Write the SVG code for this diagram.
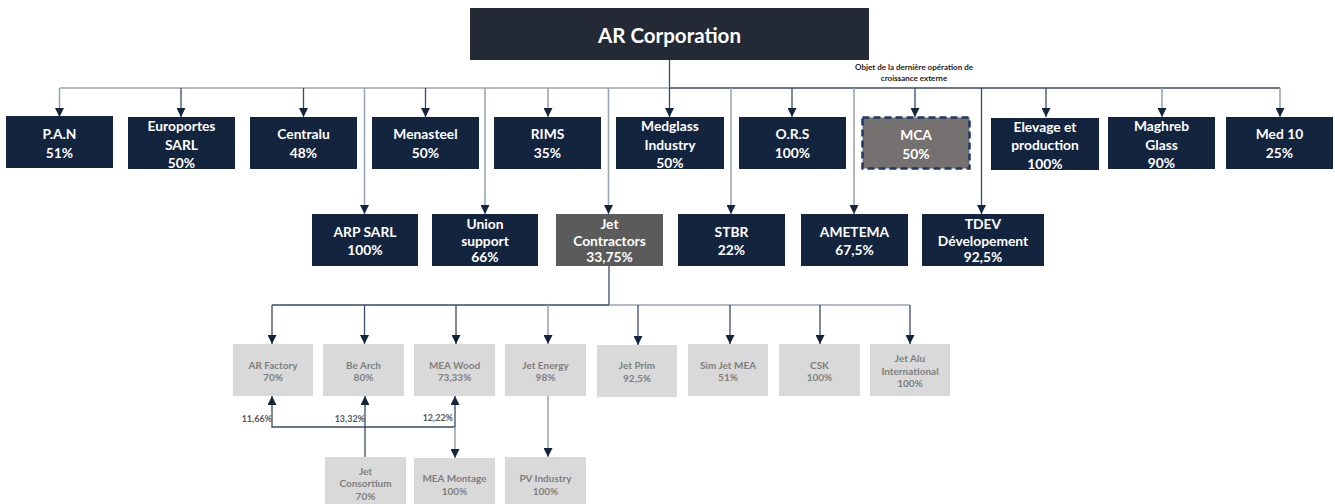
<svg xmlns="http://www.w3.org/2000/svg" width="1335" height="504" viewBox="0 0 1335 504">
<style>
  text { font-family: Lato, "Open Sans", "Liberation Sans", sans-serif; font-weight: 700; text-anchor: middle; dominant-baseline: central; }
  .nb { fill: #13243f; }
  .tw { fill: #ffffff; font-size: 13.8px; }
  .sb { fill: #d9d9d9; }
  .ts { fill: #7f7f7f; font-size: 10px; }
  .dk { stroke: #3a4a63; stroke-width: 1.3; fill: none; }
  .gy { stroke: #9aa5b6; stroke-width: 1.6; fill: none; }
  .lab { fill: #595959; font-size: 9px; text-anchor: end; }
  .note { fill: #1a1a1a; font-size: 8px; }
</style>
<defs>
  <marker id="ah" viewBox="0 0 10 10" refX="10" refY="5" markerWidth="9" markerHeight="9" markerUnits="userSpaceOnUse" orient="auto">
    <path d="M0,0 L10,5 L0,10 z" fill="#13243f"/>
  </marker>
</defs>

<g id="connectors">
  <!-- top level -->
  <path class="dk" d="M669.5,60 V88 H1280"/>
  <path class="gy" d="M59.5,88 H669.5"/>
  <path class="gy" d="M59.5,88 V117" marker-end="url(#ah)"/>
  <path class="dk" d="M181,88 V117" marker-end="url(#ah)"/>
  <path class="dk" d="M303.5,88 V117" marker-end="url(#ah)"/>
  <path class="dk" d="M425.5,88 V117" marker-end="url(#ah)"/>
  <path class="gy" d="M548,88 V117" marker-end="url(#ah)"/>
  <path class="dk" d="M669.5,88 V117" marker-end="url(#ah)"/>
  <path class="dk" d="M792,88 V117" marker-end="url(#ah)"/>
  <path class="dk" d="M915,88 V117" marker-end="url(#ah)"/>
  <path class="dk" d="M1046,88 V117" marker-end="url(#ah)"/>
  <path class="gy" d="M1162,88 V117" marker-end="url(#ah)"/>
  <path class="gy" d="M1280,88 V117" marker-end="url(#ah)"/>
  <!-- second row -->
  <path class="gy" d="M364.5,88 V214" marker-end="url(#ah)"/>
  <path class="gy" d="M485,88 V214" marker-end="url(#ah)"/>
  <path class="gy" d="M608.5,88 V214" marker-end="url(#ah)"/>
  <path class="gy" d="M731,88 V214" marker-end="url(#ah)"/>
  <path class="gy" d="M854,88 V214" marker-end="url(#ah)"/>
  <path class="dk" d="M981.5,88 V214" marker-end="url(#ah)"/>
  <!-- Jet Contractors subsidiaries -->
  <path class="dk" d="M609,266 V305 H272"/>
  <path class="gy" d="M609,305 H910"/>
  <path class="dk" d="M272,305 V344" marker-end="url(#ah)"/>
  <path class="dk" d="M364.5,305 V344" marker-end="url(#ah)"/>
  <path class="dk" d="M456,305 V344" marker-end="url(#ah)"/>
  <path class="gy" d="M548,305 V344" marker-end="url(#ah)"/>
  <path class="dk" d="M638,305 V345" marker-end="url(#ah)"/>
  <path class="dk" d="M730,305 V344" marker-end="url(#ah)"/>
  <path class="dk" d="M820,305 V344" marker-end="url(#ah)"/>
  <path class="dk" d="M910,305 V344" marker-end="url(#ah)"/>
  <!-- Jet Consortium cross-holdings -->
  <path class="dk" d="M455,427 H272 V396" marker-end="url(#ah)"/>
  <path class="dk" d="M365,457 V396" marker-end="url(#ah)"/>
  <path class="dk" d="M455,427 V396" marker-end="url(#ah)"/>
  <path class="gy" d="M455,427 V458" marker-end="url(#ah)"/>
  <path class="gy" d="M548,396 V457" marker-end="url(#ah)"/>
</g>

<g id="ar-corporation">
  <rect x="470" y="8" width="399" height="52" fill="#232a36"/>
  <text x="669.5" y="35" fill="#ffffff" font-size="20.5">AR Corporation</text>
</g>

<g id="note">
  <text class="note" x="914" y="66.5">Objet de la dernière opération de</text>
  <text class="note" x="914" y="77.5">croissance externe</text>
</g>

<g id="pan"><rect class="nb" x="6" y="116" width="107" height="52"/>
  <text class="tw" x="59.5" y="133.5">P.A.N</text><text class="tw" x="59.5" y="152.5">51%</text></g>
<g id="europortes"><rect class="nb" x="128" y="117" width="107" height="52"/>
  <text class="tw" x="181.5" y="125.5">Europortes</text><text class="tw" x="181.5" y="144">SARL</text><text class="tw" x="181.5" y="162.5">50%</text></g>
<g id="centralu"><rect class="nb" x="250" y="117" width="107" height="52"/>
  <text class="tw" x="303.5" y="133.5">Centralu</text><text class="tw" x="303.5" y="152.5">48%</text></g>
<g id="menasteel"><rect class="nb" x="372" y="117" width="107" height="52"/>
  <text class="tw" x="425.5" y="133.5">Menasteel</text><text class="tw" x="425.5" y="152.5">50%</text></g>
<g id="rims"><rect class="nb" x="494" y="117" width="107" height="52"/>
  <text class="tw" x="547.5" y="133.5">RIMS</text><text class="tw" x="547.5" y="152.5">35%</text></g>
<g id="medglass"><rect class="nb" x="616" y="117" width="108" height="52"/>
  <text class="tw" x="670" y="125.5">Medglass</text><text class="tw" x="670" y="144">Industry</text><text class="tw" x="670" y="162.5">50%</text></g>
<g id="ors"><rect class="nb" x="739" y="117" width="107" height="52"/>
  <text class="tw" x="792.5" y="133.5">O.R.S</text><text class="tw" x="792.5" y="152.5">100%</text></g>
<g id="mca"><rect x="862.5" y="117.5" width="107" height="51" fill="#757171" stroke="#1f3864" stroke-width="2.5" stroke-dasharray="7 4"/>
  <text class="tw" x="916" y="134" fill="#f2f2f2">MCA</text><text class="tw" x="916" y="153">50%</text></g>
<g id="elevage"><rect class="nb" x="991" y="118" width="108" height="52"/>
  <text class="tw" x="1045" y="126">Elevage et</text><text class="tw" x="1045" y="144.5">production</text><text class="tw" x="1045" y="163">100%</text></g>
<g id="maghreb"><rect class="nb" x="1108" y="117" width="107" height="52"/>
  <text class="tw" x="1161.5" y="125.5">Maghreb</text><text class="tw" x="1161.5" y="144">Glass</text><text class="tw" x="1161.5" y="162.5">90%</text></g>
<g id="med10"><rect class="nb" x="1226" y="117" width="107" height="52"/>
  <text class="tw" x="1279.5" y="133.5">Med 10</text><text class="tw" x="1279.5" y="152.5">25%</text></g>

<g id="arp"><rect class="nb" x="312" y="214" width="106" height="52"/>
  <text class="tw" x="365" y="231.5">ARP SARL</text><text class="tw" x="365" y="249">100%</text></g>
<g id="union"><rect class="nb" x="432" y="214" width="106" height="52"/>
  <text class="tw" x="485" y="223.5">Union</text><text class="tw" x="485" y="240">support</text><text class="tw" x="485" y="256">66%</text></g>
<g id="jet-contractors"><rect x="556" y="214" width="107" height="52" fill="#5b5b5b"/>
  <text class="tw" x="609.5" y="223.5">Jet</text><text class="tw" x="609.5" y="240">Contractors</text><text class="tw" x="609.5" y="256">33,75%</text></g>
<g id="stbr"><rect class="nb" x="678" y="214" width="107" height="52"/>
  <text class="tw" x="731.5" y="231.5">STBR</text><text class="tw" x="731.5" y="249">22%</text></g>
<g id="ametema"><rect class="nb" x="801" y="214" width="107" height="52"/>
  <text class="tw" x="854.5" y="231.5">AMETEMA</text><text class="tw" x="854.5" y="249">67,5%</text></g>
<g id="tdev"><rect class="nb" x="922" y="214" width="122" height="52"/>
  <text class="tw" x="983" y="223.5">TDEV</text><text class="tw" x="983" y="240">Dévelopement</text><text class="tw" x="983" y="256">92,5%</text></g>

<g id="ar-factory"><rect class="sb" x="233" y="344" width="80" height="52"/>
  <text class="ts" x="273" y="365">AR Factory</text><text class="ts" x="273" y="377">70%</text></g>
<g id="be-arch"><rect class="sb" x="323" y="344" width="81" height="52"/>
  <text class="ts" x="363.5" y="365">Be Arch</text><text class="ts" x="363.5" y="377">80%</text></g>
<g id="mea-wood"><rect class="sb" x="414" y="344" width="81" height="52"/>
  <text class="ts" x="454.5" y="365">MEA Wood</text><text class="ts" x="454.5" y="377">73,33%</text></g>
<g id="jet-energy"><rect class="sb" x="505" y="344" width="81" height="52"/>
  <text class="ts" x="545.5" y="365">Jet Energy</text><text class="ts" x="545.5" y="377">98%</text></g>
<g id="jet-prim"><rect class="sb" x="597" y="345" width="80" height="52"/>
  <text class="ts" x="637" y="365">Jet Prim</text><text class="ts" x="637" y="378">92,5%</text></g>
<g id="sim-jet-mea"><rect class="sb" x="688" y="344" width="80" height="52"/>
  <text class="ts" x="728" y="365">Sim Jet MEA</text><text class="ts" x="728" y="377">51%</text></g>
<g id="csk"><rect class="sb" x="779" y="344" width="81" height="52"/>
  <text class="ts" x="819.5" y="365">CSK</text><text class="ts" x="819.5" y="377">100%</text></g>
<g id="jet-alu"><rect class="sb" x="870" y="344" width="80" height="52"/>
  <text class="ts" x="910" y="358">Jet Alu</text><text class="ts" x="910" y="370.5">International</text><text class="ts" x="910" y="383">100%</text></g>

<g id="jet-consortium"><rect class="sb" x="325" y="457" width="81" height="50"/>
  <text class="ts" x="365.5" y="470.5">Jet</text><text class="ts" x="365.5" y="483">Consortium</text><text class="ts" x="365.5" y="496">70%</text></g>
<g id="mea-montage"><rect class="sb" x="414" y="458" width="81" height="50"/>
  <text class="ts" x="454.5" y="477.5">MEA Montage</text><text class="ts" x="454.5" y="490.5">100%</text></g>
<g id="pv-industry"><rect class="sb" x="505" y="457" width="81" height="50"/>
  <text class="ts" x="545.5" y="477.5">PV Industry</text><text class="ts" x="545.5" y="490.5">100%</text></g>

<g id="labels">
  <text class="lab" x="272" y="418">11,66%</text>
  <text class="lab" x="365" y="418">13,32%</text>
  <text class="lab" x="453" y="417">12,22%</text>
</g>
</svg>
